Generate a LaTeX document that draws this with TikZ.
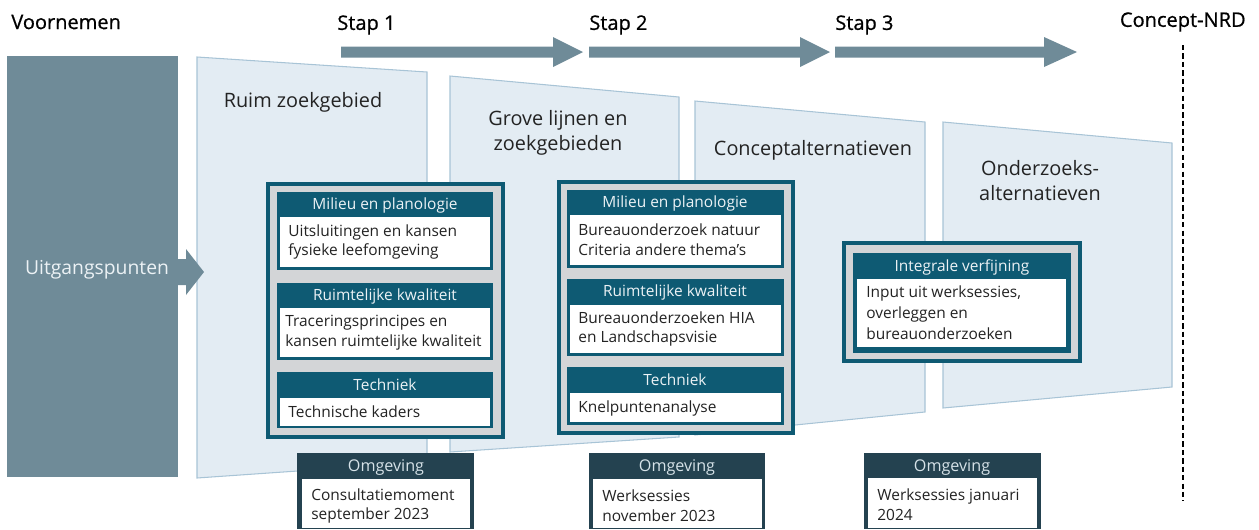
\documentclass[tikz,border=0pt]{standalone}
\usepackage{fontspec}
\setmainfont{Open Sans}
\newfontfamily\semifont[FakeBold=0.7]{Open Sans}
\usetikzlibrary{positioning,calc}
\definecolor{slate}{RGB}{111,139,152}
\definecolor{panelfill}{RGB}{227,236,243}
\definecolor{panelline}{RGB}{168,196,214}
\definecolor{grpteal}{RGB}{14,90,115}
\definecolor{boxgray}{RGB}{211,213,215}
\definecolor{envdark}{RGB}{36,66,80}
\definecolor{inktext}{RGB}{35,35,35}
\definecolor{hdrtext}{RGB}{236,242,245}
\definecolor{envtext}{RGB}{214,226,232}

\begin{document}
\begin{tikzpicture}[x=0.02cm, y=-0.02cm,
  panel/.style={fill=panelfill, draw=panelline, line width=0.6pt},
  stapar/.style={fill=slate},
  grp/.style={fill=boxgray, draw=grpteal, line width=2.4pt},
  subfrm/.style={fill=grpteal},
  wbox/.style={fill=white},
  envfrm/.style={fill=envdark},
  hdr/.style={font=\fontsize{8.8}{11}\selectfont, text=hdrtext, inner sep=0pt},
  envhdr/.style={font=\fontsize{9.2}{11}\selectfont, text=envtext, inner sep=0pt},
  bodytxt/.style={font=\fontsize{8.8}{11.3}\selectfont, text=inktext,
    align=left, inner sep=0pt, anchor=west},
  ttl/.style={font=\semifont\fontsize{11.4}{13}\selectfont, text=black, inner sep=0pt},
  ptitle/.style={font=\fontsize{11.3}{14.2}\selectfont, text=inktext,
    align=center, inner sep=0pt},
]
\useasboundingbox (0,0) rectangle (1259,529);

% top row: titles and steps
\node[ttl, anchor=west] (voorn) at (11,22) {Voornemen};
\node[ttl, anchor=west] (stap1) at (337,25) {Stap 1};
\node[ttl, anchor=west] (stap2) at (589,25) {Stap 2};
\node[ttl, anchor=west] (stap3) at (835,25) {Stap 3};
\node[ttl, anchor=east] (nrd) at (1246,22) {Concept-NRD};
\fill[stapar] (341,46.5) -- (553,46.5) -- (553,37) -- (583,52) -- (553,67)
  -- (553,57.5) -- (341,57.5) -- cycle;
\fill[stapar] (589,46.5) -- (800,46.5) -- (800,37) -- (830,52) -- (800,67)
  -- (800,57.5) -- (589,57.5) -- cycle;
\fill[stapar] (835,46.5) -- (1044,46.5) -- (1044,37) -- (1077,52) -- (1044,67)
  -- (1044,57.5) -- (835,57.5) -- cycle;
\coordinate (nrdtop) at (1183,45);
\coordinate (nrdbot) at (1183,501);
\draw[line width=1pt, dash pattern=on 3pt off 1.8pt] (nrdtop) -- (nrdbot);

% the four search panels
\draw[panel] (197,57) -- (427,72) -- (427,462) -- (197,478) -- cycle;
\draw[panel] (450,76) -- (679,97) -- (679,437) -- (450,452) -- cycle;
\draw[panel] (695,101) -- (925,122) -- (925,412) -- (695,435) -- cycle;
\draw[panel] (943,122) -- (1172,143) -- (1172,387) -- (943,408) -- cycle;
\node[ptitle] (ruim) at (303,102) {Ruim zoekgebied};
\node[ptitle] (grove) at (558,133) {Grove lijnen en\\zoekgebieden};
\node[ptitle] (concept) at (813,150) {Conceptalternatieven};
\node[ptitle] (onderz) at (1040,181) {Onderzoeks-\\alternatieven};

% uitgangspunten
\fill[slate] (7,56) rectangle (178,477);
\fill[slate] (170,259) -- (186,259) -- (186,249) -- (204,272) -- (186,295)
  -- (186,285) -- (170,285) -- cycle;
\node[font=\fontsize{11}{13}\selectfont, text=hdrtext, inner sep=0pt]
  (uitg) at (97,270) {Uitgangspunten};

% group 1
\draw[grp] (268,184) rectangle (503,437);
\fill[subfrm] (277,192) rectangle (493,270);
\fill[wbox] (280,217) rectangle (490,267);
\node[hdr] (mp1) at (385,205) {Milieu en planologie};
\node[bodytxt] (mpb1) at (288,242) {Uitsluitingen en kansen\\fysieke leefomgeving};
\fill[subfrm] (277,283) rectangle (493,360);
\fill[wbox] (280,308) rectangle (490,357);
\node[hdr] (rk1) at (385,296) {Ruimtelijke kwaliteit};
\node[bodytxt] (rkb1) at (285,333) {Traceringsprincipes en\\kansen ruimtelijke kwaliteit};
\fill[subfrm] (277,372) rectangle (493,428);
\fill[wbox] (280,398) rectangle (490,426);
\node[hdr] (te1) at (385,385) {Techniek};
\node[bodytxt] (teb1) at (288,412) {Technische kaders};

% group 2
\draw[grp] (559,182) rectangle (793,433);
\fill[subfrm] (567,190) rectangle (784,268);
\fill[wbox] (570,215) rectangle (781,265);
\node[hdr] (mp2) at (675,203) {Milieu en planologie};
\node[bodytxt] (mpb2) at (578,240) {Bureauonderzoek natuur\\Criteria andere thema’s};
\fill[subfrm] (567,279) rectangle (784,356);
\fill[wbox] (570,305) rectangle (781,353);
\node[hdr] (rk2) at (675,292) {Ruimtelijke kwaliteit};
\node[bodytxt] (rkb2) at (578,329) {Bureauonderzoeken HIA\\en Landschapsvisie};
\fill[subfrm] (567,367) rectangle (784,425);
\fill[wbox] (570,393) rectangle (781,422);
\node[hdr] (te2) at (675,380) {Techniek};
\node[bodytxt] (teb2) at (578,408) {Knelpuntenanalyse};

% group 3
\draw[grp] (844,243) rectangle (1080,361);
\fill[subfrm] (853,253) rectangle (1071,353);
\fill[wbox] (857,279) rectangle (1066,347);
\node[hdr] (iv3) at (962,267) {Integrale verfijning};
\node[bodytxt, font=\fontsize{8.8}{12}\selectfont] (ivb3) at (866,313)
  {Input uit werksessies,\\overleggen en\\bureauonderzoeken};

% omgeving
\fill[envfrm] (297,453) rectangle (474,529);
\fill[wbox] (302,479) rectangle (470,528);
\node[envhdr] (omg1) at (386,467) {Omgeving};
\node[bodytxt] (omgb1) at (311,506) {Consultatiemoment\\september 2023};
\fill[envfrm] (589,453) rectangle (765,529);
\fill[wbox] (593,479) rectangle (762,528);
\node[envhdr] (omg2) at (677,467) {Omgeving};
\node[bodytxt] (omgb2) at (602,506) {Werksessies\\november 2023};
\fill[envfrm] (864,453) rectangle (1041,529);
\fill[wbox] (868,478) rectangle (1037,528);
\node[envhdr] (omg3) at (952,467) {Omgeving};
\node[bodytxt] (omgb3) at (877,505) {Werksessies januari\\2024};
\end{tikzpicture}
\end{document}
